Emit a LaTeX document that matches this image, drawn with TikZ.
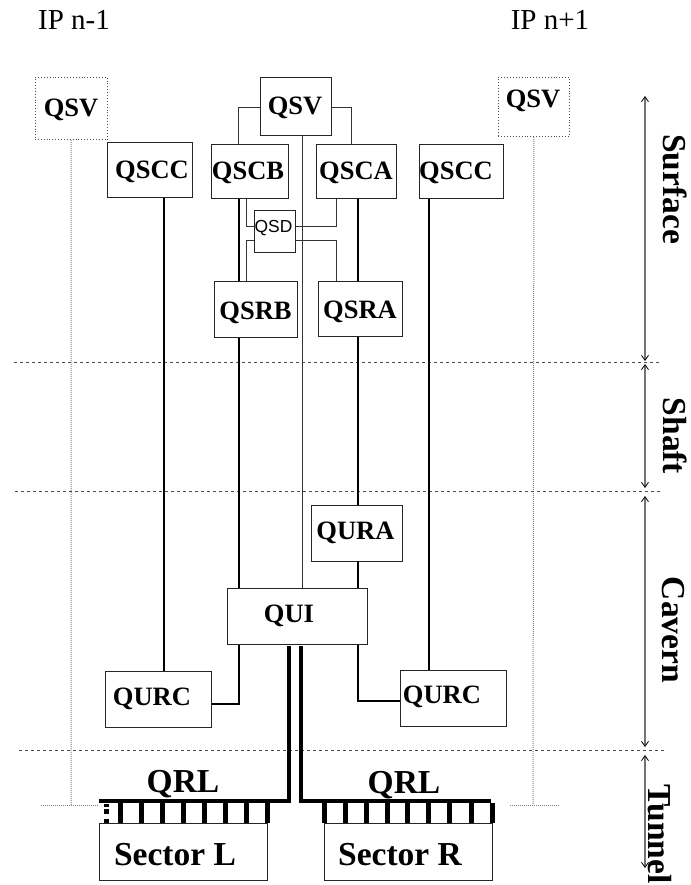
\documentclass[tikz,border=0pt]{standalone}
\usepackage{fontspec}
\setmainfont{Liberation Serif}
\newfontfamily\qsdfont{Liberation Sans}
\usetikzlibrary{arrows.meta}

\begin{document}
\begin{tikzpicture}[
    x=1pt, y=-1pt,
    box/.style={draw=black!85, line width=0.9pt, inner sep=0pt, anchor=north west},
    ghostbox/.style={box, draw=black!70, dotted},
    label/.style={font=\fontsize{26.5}{30}\bfseries\selectfont, anchor=base},
    biglabel/.style={font=\fontsize{33.5}{38}\bfseries\selectfont, anchor=base},
    iplabel/.style={font=\fontsize{29}{32}\selectfont, anchor=base},
    zonelabel/.style={font=\fontsize{33.5}{38}\bfseries\selectfont, rotate=-90, anchor=base},
    thinline/.style={line width=0.9pt, draw=black!80},
    boldline/.style={line width=2pt, draw=black},
    heavyline/.style={line width=4.2pt, draw=black},
    ghostline/.style={line width=1pt, draw=black!50, densely dotted},
    level/.style={line width=0.9pt, draw=black!70, dashed},
    span/.style={{Straight Barb[length=5pt,width=7pt,line width=0.8pt,color=black]}-{Straight Barb[length=5pt,width=7pt,line width=0.8pt,color=black]}, line width=1.3pt, draw=black!55},
    slot/.style={line width=5pt, draw=black}
]
\useasboundingbox (0,0) rectangle (690,885);
% boxes
\node[ghostbox, minimum width=72.5pt, minimum height=62pt] (qsvl) at (34.5,77) {};
\node[box, minimum width=70.5pt, minimum height=58pt] (qsv) at (260,77) {};
\node[ghostbox, minimum width=71pt, minimum height=59pt] (qsvr) at (498,77) {};
\node[box, minimum width=85pt, minimum height=55pt] (qsccl) at (107,142) {};
\node[box, minimum width=77pt, minimum height=54pt] (qscb) at (211,144) {};
\node[box, minimum width=80pt, minimum height=54pt] (qsca) at (316,144) {};
\node[box, minimum width=84pt, minimum height=54pt] (qsccr) at (419,144) {};
\node[box, minimum width=41.5pt, minimum height=42pt] (qsd) at (253.5,210) {};
\node[box, minimum width=83pt, minimum height=56pt] (qsrb) at (213.5,281) {};
\node[box, minimum width=84pt, minimum height=55.5pt] (qsra) at (318,280.5) {};
\node[box, minimum width=90.5pt, minimum height=56pt] (qura) at (311,504.5) {};
\node[box, minimum width=140pt, minimum height=56pt] (qui) at (227,588) {};
\node[box, minimum width=106pt, minimum height=56pt] (qurcl) at (105,671) {};
\node[box, minimum width=105.5pt, minimum height=56pt] (qurcr) at (400,670) {};
\node[box, minimum width=168pt, minimum height=57pt] (secl) at (99,823) {};
\node[box, minimum width=168.5pt, minimum height=57pt] (secr) at (323.5,823) {};
% labels
\node[iplabel] at (74,30) {IP n-1};
\node[iplabel] at (550,30) {IP n+1};
\node[label] at (71,117) {QSV};
\node[label] at (295,115) {QSV};
\node[label] at (533,108) {QSV};
\node[label] at (152,179) {QSCC};
\node[label] at (248,180) {QSCB};
\node[label] at (356,180) {QSCA};
\node[label] at (456,180) {QSCC};
\node[anchor=base, font=\qsdfont\fontsize{17.4}{20}\selectfont] at (273.5,233) {QSD};
\node[label] at (255.5,319) {QSRB};
\node[label] at (360,318) {QSRA};
\node[label] at (355.5,539) {QURA};
\node[label] at (289,622) {QUI};
\node[label] at (152,705) {QURC};
\node[label] at (442,703) {QURC};
\node[biglabel] at (183,792) {QRL};
\node[biglabel] at (404,793) {QRL};
\node[biglabel] at (175,865) {Sector L};
\node[biglabel] at (400,865) {Sector R};
\node[zonelabel] at (663,189) {Surface};
\node[zonelabel] at (663,436) {Shaft};
\node[zonelabel] at (662,630) {Cavern};
\node[zonelabel] at (648,834) {Tunnel};
% columns the vertical lines run along
\coordinate (cl) at (163.5,0);
\coordinate (cb) at (239,0);
\coordinate (cc) at (302,0);
\coordinate (ca) at (358,0);
\coordinate (cr) at (429,0);
\coordinate (fb) at (238.5,0);
\coordinate (fa) at (351,0);
\coordinate (db) at (246,0);
\coordinate (da) at (336.5,0);
% dotted lines of the neighbours
\draw[ghostline] (qsvl.south) -- (71,805);
\draw[ghostline] (41,805) -- (secl.north west |- 0,805);
\draw[ghostline] (qsvr.south) -- (533,805);
\draw[ghostline] (510,805) -- (560,805);
% levels
\draw[level] (14,362) -- (659,362);
\draw[level] (15,491) -- (661,491);
\draw[level] (19,750) -- (665,750);
\draw[span] (645,96) -- (645,361);
\draw[span] (645,364) -- (645,488);
\draw[span] (645,496) -- (645,747);
\draw[span] (645,755) -- (645,868);
% thin links
\draw[thinline] (qsv.south -| cc) -- (qui.north -| cc);
\draw[thinline] (qsv.west |- 0,107) -| (qscb.north -| fb);
\draw[thinline] (qsv.east |- 0,107) -| (qsca.north -| fa);
\draw[thinline] (qscb.south -| db) |- (qsd.west |- 0,226);
\draw[thinline] (qsrb.north -| db) |- (qsd.west |- 0,240);
\draw[thinline] (qsca.south -| da) |- (qsd.east |- 0,226);
\draw[thinline] (qsra.north -| da) |- (qsd.east |- 0,240);
% bold links
\draw[boldline] (qsccl.south -| cl) -- (qurcl.north -| cl);
\draw[boldline] (qsccr.south -| cr) -- (qurcr.north -| cr);
\draw[boldline] (qscb.south -| cb) -- (qsrb.north -| cb);
\draw[boldline] (qsrb.south -| cb) -- (qui.north -| cb);
\draw[boldline] (qsca.south -| ca) -- (qsra.north -| ca);
\draw[boldline] (qsra.south -| ca) -- (qura.north -| ca);
\draw[boldline] (qura.south -| ca) -- (qui.north -| ca);
\draw[boldline] (qui.south -| cb) |- (qurcl.east |- 0,704);
\draw[boldline] (qui.south -| ca) |- (qurcr.west |- 0,701);
% QRL
\draw[heavyline] (289,646) -- (289,801) -- (99,801);
\draw[heavyline] (301,646) -- (301,801) -- (491,801);
\foreach \x in {120,141,162,183,204,225,246,267}
    \draw[slot] (\x,803) -- (\x,823);
\foreach \x in {324,345,366,387,407,428,449,471,492}
    \draw[slot] (\x,803) -- (\x,823);
\draw[slot] (106,804) -- (106,806.5);
\draw[slot] (106,809) -- (106,814);
\draw[slot] (106,819) -- (106,823);
\end{tikzpicture}
\end{document}
